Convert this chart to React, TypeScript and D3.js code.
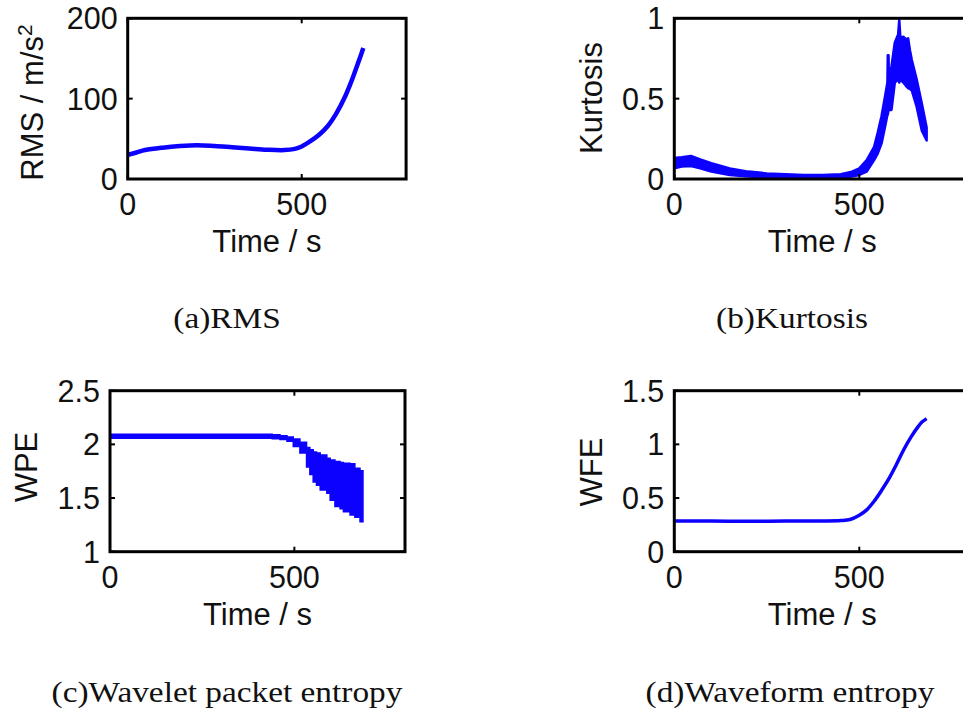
import React from "react";
import * as d3 from "d3";

// ---------- data ----------
const xTicks = [0, 500];

const rmsTime = [0, 25, 50, 100, 150, 200, 250, 300, 350, 400, 450, 480, 500, 525, 550, 575, 600, 625, 645, 660, 670, 677];
const rmsValue = [30, 33, 36, 39, 41, 42, 41, 39.5, 38, 36.5, 36, 37.5, 40.5, 47, 55, 66, 82, 103, 124, 142, 154, 163];
const rmsYTicks = [0, 100, 200];

const kurtTime = [0, 20, 45, 70, 100, 150, 200, 250, 300, 350, 400, 450, 480, 500, 520, 540, 550, 560, 570, 576, 577, 579, 580, 587, 596, 605, 608, 611, 619, 626, 632, 637, 642, 655, 669, 682];
const kurtUpper = [0.13, 0.135, 0.143, 0.122, 0.098, 0.066, 0.046, 0.035, 0.029, 0.025, 0.025, 0.03, 0.046, 0.066, 0.118, 0.2, 0.29, 0.39, 0.52, 0.6, 0.77, 0.77, 0.62, 0.7, 0.85, 0.9, 0.99, 0.88, 0.885, 0.87, 0.875, 0.8, 0.74, 0.62, 0.47, 0.32];
const kurtLower = [0.066, 0.077, 0.081, 0.066, 0.046, 0.025, 0.015, 0.01, 0.008, 0.006, 0.006, 0.008, 0.015, 0.025, 0.046, 0.118, 0.16, 0.22, 0.33, 0.4, 0.4, 0.43, 0.43, 0.43, 0.6, 0.62, 0.6, 0.62, 0.6, 0.58, 0.565, 0.56, 0.55, 0.45, 0.3, 0.24];
const kurtYTicks = [0, 0.5, 1];

const wpeTime = [0, 400, 440, 461, 480, 497, 515, 533, 542, 551, 560, 570, 588, 597, 610, 624, 633, 651, 664, 678, 686];
const wpeUpper = [2.095, 2.095, 2.09, 2.08, 2.068, 2.05, 2.02, 1.97, 1.95, 1.93, 1.92, 1.9, 1.87, 1.855, 1.84, 1.83, 1.825, 1.82, 1.777, 1.755, 1.745];
const wpeLower = [2.057, 2.057, 2.052, 2.045, 2.03, 1.98, 1.92, 1.79, 1.72, 1.65, 1.62, 1.575, 1.544, 1.48, 1.42, 1.4, 1.372, 1.342, 1.32, 1.28, 1.28];
const wpeYTicks = [1, 1.5, 2, 2.5];

const wfeTime = [0, 100, 200, 300, 400, 450, 475, 500, 520, 540, 560, 580, 600, 620, 640, 660, 670, 682];
const wfeValue = [0.285, 0.285, 0.283, 0.285, 0.286, 0.29, 0.3, 0.34, 0.39, 0.47, 0.57, 0.68, 0.81, 0.95, 1.07, 1.17, 1.21, 1.24];
const wfeYTicks = [0, 0.5, 1, 1.5];

const xLabel = "Time / s";
const titles = ["(a)RMS", "(b)Kurtosis", "(c)Wavelet packet entropy", "(d)Waveform entropy"];

// ---------- styling ----------
const BLUE = "#0c00ff";
const SANS = "'Liberation Sans', Arial, Helvetica, sans-serif";
const SERIF = "'Liberation Serif', 'Times New Roman', serif";

type PanelProps = {
  x0: number; x1: number; y0: number; y1: number;
  yDomain: [number, number];
  yTicks: number[];
  ylabel: React.ReactNode;
  ylabelX: number; ylabelY: number;
  title: string; titleX: number; titleY: number;
  children: (x: d3.ScaleLinear<number, number>, y: d3.ScaleLinear<number, number>) => React.ReactNode;
};

function Panel(p: PanelProps) {
  const x = d3.scaleLinear().domain([0, 800]).range([p.x0, p.x1]);
  const y = d3.scaleLinear().domain(p.yDomain).range([p.y1, p.y0]);
  const fmt = (v: number) => String(v);
  const tl = 5;
  return (
    <g>
      {p.children(x, y)}
      <rect x={p.x0} y={p.y0} width={p.x1 - p.x0} height={p.y1 - p.y0} fill="none" stroke="#000" strokeWidth={3} />
      {xTicks.map((t) => (
        <g key={"xt" + t}>
          <line x1={x(t)} x2={x(t)} y1={p.y1} y2={p.y1 - tl} stroke="#000" strokeWidth={2} />
          <line x1={x(t)} x2={x(t)} y1={p.y0} y2={p.y0 + tl} stroke="#000" strokeWidth={2} />
          <text x={x(t)} y={p.y1 + 36} textAnchor="middle" fontFamily={SANS} fontSize={30.5} fill="#111">{fmt(t)}</text>
        </g>
      ))}
      {p.yTicks.map((t) => (
        <g key={"yt" + t}>
          <line x1={p.x0} x2={p.x0 + tl} y1={y(t)} y2={y(t)} stroke="#000" strokeWidth={2} />
          <line x1={p.x1} x2={p.x1 - tl} y1={y(t)} y2={y(t)} stroke="#000" strokeWidth={2} />
          <text x={p.x0 - 10} y={y(t)} dy="0.36em" textAnchor="end" fontFamily={SANS} fontSize={30.5} fill="#111">{fmt(t)}</text>
        </g>
      ))}
      <text x={(p.x0 + p.x1) / 2} y={p.y1 + 73} textAnchor="middle" fontFamily={SANS} fontSize={31} fill="#111">{xLabel}</text>
      <text transform={`translate(${p.ylabelX},${p.ylabelY}) rotate(-90)`} textAnchor="middle" fontFamily={SANS} fontSize={31} fill="#111">{p.ylabel}</text>
      <text transform={`translate(${p.titleX},${p.titleY}) scale(1.17,1)`} textAnchor="middle" fontFamily={SERIF} fontSize={28.5} fill="#111">{p.title}</text>
    </g>
  );
}

export default function App() {
  const idx = (arr: number[]) => arr.map((_, i) => i);
  return (
    <svg width={963} height={712} style={{ position: "absolute", left: 0, top: 0, background: "#fff" }}>
      <rect x={0} y={0} width={963} height={712} fill="#fff" />
      {/* (a) RMS */}
      <Panel x0={127.7} x1={406.1} y0={18.3} y1={179} yDomain={[0, 200]} yTicks={rmsYTicks}
        ylabel={<>{"RMS / m/s"}<tspan dy={-11} fontSize={21}>2</tspan></>}
        ylabelX={43} ylabelY={102.5} title={titles[0]} titleX={227} titleY={328}>
        {(x, y) => {
          const line = d3.line<number>().x((i) => x(rmsTime[i])).y((i) => y(rmsValue[i])).curve(d3.curveCatmullRom);
          return <path d={line(idx(rmsTime)) || ""} fill="none" stroke={BLUE} strokeWidth={4.5} strokeLinejoin="round" />;
        }}
      </Panel>
      {/* (b) Kurtosis */}
      <Panel x0={674.3} x1={970.3} y0={18.3} y1={179} yDomain={[0, 1]} yTicks={kurtYTicks}
        ylabel={"Kurtosis"} ylabelX={602} ylabelY={98} title={titles[1]} titleX={792} titleY={328}>
        {(x, y) => {
          const area = d3.area<number>().x((i) => x(kurtTime[i])).y0((i) => y(kurtLower[i])).y1((i) => y(kurtUpper[i]));
          return <path d={area(idx(kurtTime)) || ""} fill={BLUE} stroke={BLUE} strokeWidth={2.5} strokeLinejoin="round" />;
        }}
      </Panel>
      {/* (c) WPE */}
      <Panel x0={110} x1={405} y0={390.7} y1={551.7} yDomain={[1, 2.5]} yTicks={wpeYTicks}
        ylabel={"WPE"} ylabelX={37} ylabelY={467} title={titles[2]} titleX={227} titleY={702}>
        {(x, y) => {
          const area = d3.area<number>().x((i) => x(wpeTime[i])).y0((i) => y(wpeLower[i])).y1((i) => y(wpeUpper[i])).curve(d3.curveStepAfter);
          return <path d={area(idx(wpeTime)) || ""} fill={BLUE} stroke={BLUE} strokeWidth={1.5} />;
        }}
      </Panel>
      {/* (d) WFE */}
      <Panel x0={674.3} x1={970.3} y0={390.7} y1={551.7} yDomain={[0, 1.5]} yTicks={wfeYTicks}
        ylabel={"WFE"} ylabelX={602} ylabelY={472} title={titles[3]} titleX={790} titleY={702}>
        {(x, y) => {
          const line = d3.line<number>().x((i) => x(wfeTime[i])).y((i) => y(wfeValue[i])).curve(d3.curveCatmullRom);
          return <path d={line(idx(wfeTime)) || ""} fill="none" stroke={BLUE} strokeWidth={3.5} strokeLinejoin="round" />;
        }}
      </Panel>
    </svg>
  );
}
